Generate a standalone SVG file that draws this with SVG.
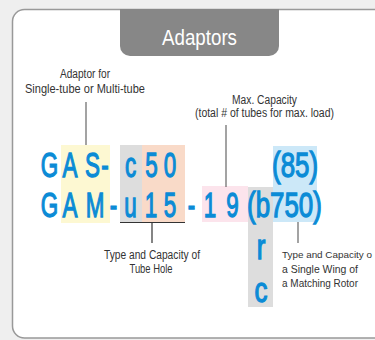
<svg xmlns="http://www.w3.org/2000/svg" width="375" height="340" viewBox="0 0 375 340">
<style>
.lbl{font-family:"Liberation Sans",Arial,sans-serif;font-size:12.5px;fill:#333}
.lbs{font-family:"Liberation Sans",Arial,sans-serif;font-size:11.5px;fill:#333}
.big{font-family:"Liberation Sans",Arial,sans-serif;font-size:35px;fill:#0b8bd6;stroke:#0b8bd6;stroke-width:1.3}
.ln{stroke:#666;stroke-width:1.2;fill:none}
</style>
<rect x="0" y="0" width="375" height="340" fill="#efefef"/>
<g id="panel">
<rect x="12.5" y="9.5" width="420" height="328.5" rx="12" fill="#fff" stroke="#999" stroke-width="1.5"/>
</g>
<g id="tab">
<path d="M120 9 V46 A10 10 0 0 0 130 56 H269 A10 10 0 0 0 279 46 V9 Z" fill="#878787"/>
<text x="199.5" y="45" text-anchor="middle" textLength="75" lengthAdjust="spacingAndGlyphs" style="font-family:'Liberation Sans',Arial,sans-serif;font-size:22px;fill:#fff">Adaptors</text>
</g>
<g id="highlights">
<rect x="61" y="145" width="49" height="78" fill="#fdf8d2"/>
<rect x="120" y="145" width="22" height="77" fill="#dddddd"/>
<rect x="142" y="145" width="43" height="77" fill="#f9dac8"/>
<rect x="202" y="186" width="46" height="36" fill="#fce4ec"/>
<rect x="248" y="187" width="25" height="120" fill="#dddddd"/>
<rect x="273" y="146" width="44" height="76" fill="#cce8f8"/>
</g>
<g id="connectors">
<line class="ln" x1="86" y1="102" x2="86" y2="145"/>
<line class="ln" x1="226" y1="125" x2="226" y2="187"/>
<line x1="120" y1="222.5" x2="185" y2="222.5" stroke="#333" stroke-width="1.2"/>
<line x1="152" y1="223" x2="152" y2="243" stroke="#333" stroke-width="1.2"/>
<line class="ln" x1="298" y1="222" x2="298" y2="243"/>
</g>
<g id="code">
<g transform="scale(0.64 1)">
<text class="big" text-anchor="middle" x="77.3 109.4 144.5 164.1 203.9 236.7 265.6" y="177">GAS-c50</text>
<text class="big" text-anchor="middle" x="77.3 109.4 148.4 177.3 203.9 235.9 265.6 299.2 328.1 363.3" y="217">GAM-u15-19</text>
</g>
<g transform="scale(0.74 1)">
<text class="big" x="367.6" y="177">(85)</text>
<text class="big" x="333.8" y="217">(b750)</text>
<text class="big" text-anchor="middle" x="352.7" y="259">r</text>
<text class="big" text-anchor="middle" x="352.7" y="302">c</text>
</g>
</g>
<g id="label-adaptor">
<text class="lbl" x="85" y="78" text-anchor="middle" textLength="50" lengthAdjust="spacingAndGlyphs">Adaptor for</text>
<text class="lbl" x="85" y="93" text-anchor="middle" textLength="120" lengthAdjust="spacingAndGlyphs">Single-tube or Multi-tube</text>
</g>
<g id="label-max">
<text class="lbl" x="264.5" y="104" text-anchor="middle" textLength="65" lengthAdjust="spacingAndGlyphs">Max. Capacity</text>
<text class="lbl" x="264.5" y="117" text-anchor="middle" textLength="139" lengthAdjust="spacingAndGlyphs">(total # of tubes for max. load)</text>
</g>
<g id="label-hole">
<text class="lbl" x="152" y="259" text-anchor="middle" textLength="96" lengthAdjust="spacingAndGlyphs">Type and Capacity of</text>
<text class="lbl" x="151" y="273" text-anchor="middle" textLength="43" lengthAdjust="spacingAndGlyphs">Tube Hole</text>
</g>
<g id="label-wing">
<text class="lbs" x="282" y="258" style="font-size:9.8px" textLength="90" lengthAdjust="spacingAndGlyphs">Type and Capacity o</text>
<text class="lbs" x="282" y="273" textLength="76" lengthAdjust="spacingAndGlyphs">a Single Wing of</text>
<text class="lbs" x="282" y="287" textLength="76" lengthAdjust="spacingAndGlyphs">a Matching Rotor</text>
</g>
</svg>
